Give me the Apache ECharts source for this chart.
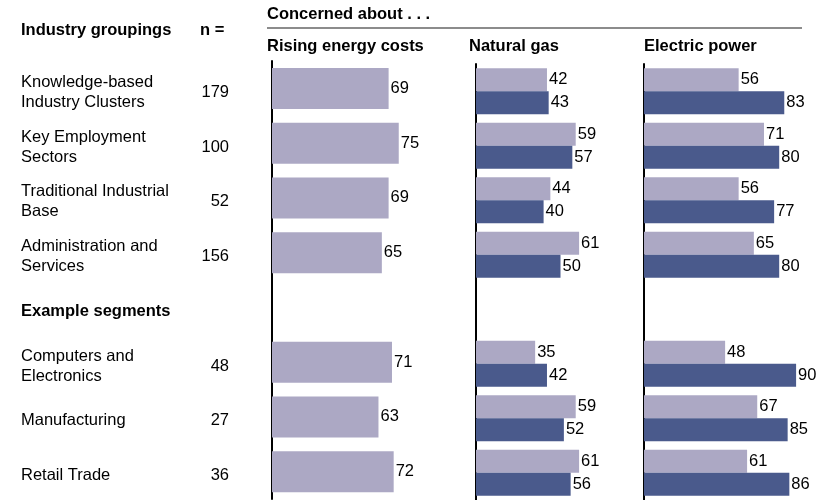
<!DOCTYPE html>
<html>

<head>
    <meta charset="utf-8">
    <title>ECharts</title>
    <script src="https://cdn.jsdelivr.net/npm/echarts@6/dist/echarts.min.js"></script>
</head>

<body style="margin:0">
    <div id="main" style="width: 818px;height:500px;"></div>
    <script type="text/javascript">
        // 行标签、样本数、数值
        var categories = ['Knowledge-based\nIndustry Clusters', 'Key Employment\nSectors', 'Traditional Industrial\nBase',
            'Administration and\nServices', 'Example segments', 'Computers and\nElectronics', 'Manufacturing', 'Retail Trade'];
        var nCounts = ['179', '100', '52', '156', '', '48', '27', '36'];
        var risingCosts = [69, 75, 69, 65, '-', 71, 63, 72];
        var gasLight = [42, 59, 44, 61, '-', 35, 59, 61];
        var gasDark = [43, 57, 40, 50, '-', 42, 52, 56];
        var powerLight = [56, 71, 56, 65, '-', 48, 67, 61];
        var powerDark = [83, 80, 77, 80, '-', 90, 85, 86];

        var LIGHT = '#aca8c4';
        var DARK = '#4a5a8c';
        var FONT = 'Liberation Sans, Arial, sans-serif';
        var FS = 16.5;

        var myChart = echarts.init(document.getElementById('main'));

        function valueAxis(idx) {
            return { type: 'value', gridIndex: idx, min: 0, max: 100, show: false };
        }
        function catAxis(idx) {
            return {
                type: 'category', gridIndex: idx, inverse: true, data: categories,
                axisLine: { show: true, lineStyle: { color: '#000', width: 2 } },
                axisTick: { show: false }, axisLabel: { show: false }, splitLine: { show: false }
            };
        }
        var lbl = { show: true, position: 'right', distance: 2, color: '#000', fontSize: FS, fontFamily: FONT };

        myChart.setOption({
            animation: false,
            textStyle: { fontFamily: FONT },
            grid: [
                { left: 272, top: 61, width: 169, height: 438 },
                { left: 476, top: 64, width: 169, height: 437 },
                { left: 644, top: 64, width: 169, height: 437 }
            ],
            xAxis: [valueAxis(0), valueAxis(1), valueAxis(2)],
            yAxis: [
                {
                    type: 'category', gridIndex: 0, inverse: true, data: categories,
                    axisLine: { show: true, lineStyle: { color: '#000', width: 2 } },
                    axisTick: { show: false }, splitLine: { show: false },
                    axisLabel: {
                        align: 'left', margin: 251, color: '#000', fontSize: FS, lineHeight: 20, fontFamily: FONT,
                        padding: [8, 0, 0, 0],
                        formatter: function (v) {
                            return v === 'Example segments' ? '{b|' + v + '}' : v;
                        },
                        rich: { b: { fontWeight: 'bold', fontSize: FS, color: '#000', fontFamily: FONT } }
                    }
                },
                {
                    type: 'category', gridIndex: 0, inverse: true, data: nCounts, position: 'left',
                    axisLine: { show: false }, axisTick: { show: false }, splitLine: { show: false },
                    axisLabel: {
                        align: 'right', margin: 43, color: '#000', fontSize: FS, lineHeight: 20, fontFamily: FONT,
                        padding: [8, 0, 0, 0],
                        formatter: function (v) { return '{n|' + v + '}'; },
                        rich: { n: { fontSize: FS, color: '#000', fontFamily: FONT } }
                    }
                },
                catAxis(1), catAxis(2)
            ],
            series: [
                { type: 'bar', xAxisIndex: 0, yAxisIndex: 0, data: risingCosts, barWidth: 41, itemStyle: { color: LIGHT }, label: lbl },
                { type: 'bar', xAxisIndex: 1, yAxisIndex: 2, data: gasLight, barWidth: 23, barGap: '0%', itemStyle: { color: LIGHT }, label: lbl },
                { type: 'bar', xAxisIndex: 1, yAxisIndex: 2, data: gasDark, barWidth: 23, barGap: '0%', itemStyle: { color: DARK }, label: lbl },
                { type: 'bar', xAxisIndex: 2, yAxisIndex: 3, data: powerLight, barWidth: 23, barGap: '0%', itemStyle: { color: LIGHT }, label: lbl },
                { type: 'bar', xAxisIndex: 2, yAxisIndex: 3, data: powerDark, barWidth: 23, barGap: '0%', itemStyle: { color: DARK }, label: lbl }
            ],
            graphic: [
                { type: 'text', left: 21, top: 22, style: { text: 'Industry groupings', font: 'bold ' + FS + 'px ' + FONT, fill: '#000' } },
                { type: 'text', left: 200, top: 22, style: { text: 'n =', font: 'bold ' + FS + 'px ' + FONT, fill: '#000' } },
                { type: 'text', left: 267, top: 6, style: { text: 'Concerned about . . .', font: 'bold ' + FS + 'px ' + FONT, fill: '#000' } },
                { type: 'line', shape: { x1: 267, y1: 28, x2: 802, y2: 28 }, style: { stroke: '#666', lineWidth: 1.5 } },
                { type: 'text', left: 267, top: 38, style: { text: 'Rising energy costs', font: 'bold ' + FS + 'px ' + FONT, fill: '#000' } },
                { type: 'text', left: 469, top: 38, style: { text: 'Natural gas', font: 'bold ' + FS + 'px ' + FONT, fill: '#000' } },
                { type: 'text', left: 644, top: 38, style: { text: 'Electric power', font: 'bold ' + FS + 'px ' + FONT, fill: '#000' } }
            ]
        });
    </script>
</body>

</html>
